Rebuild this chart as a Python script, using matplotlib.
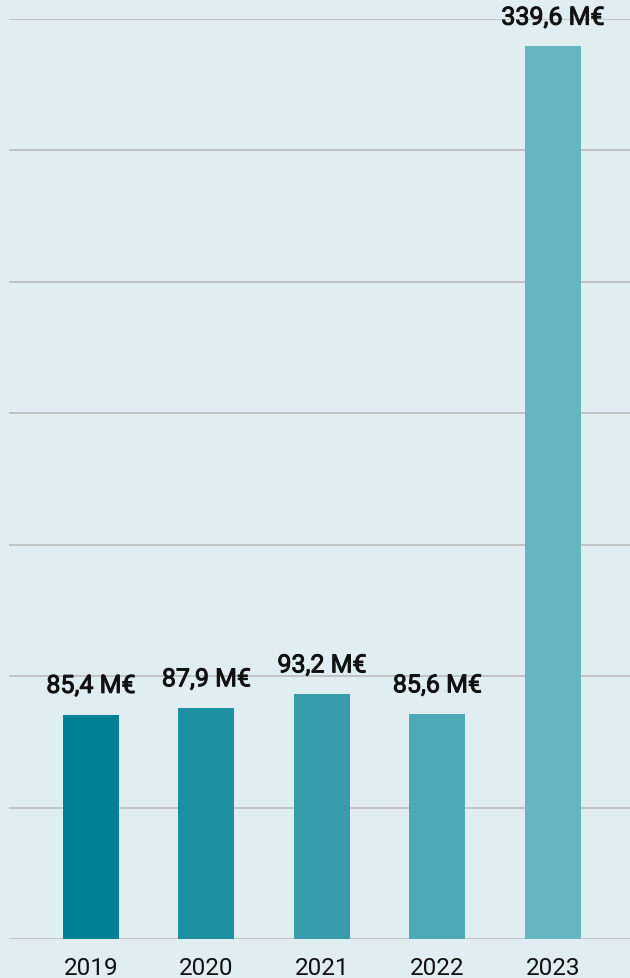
import matplotlib.pyplot as plt
import matplotlib.patheffects as pe
import numpy as np

years = ['2019', '2020', '2021', '2022', '2023']
values = [85.4, 87.9, 93.2, 85.6, 339.6]
labels = ['85,4 M€', '87,9 M€', '93,2 M€', '85,6 M€', '339,6 M€']
colors = ['#018294', '#1d91a1', '#369dab', '#4ea9b7', '#67b5c1']

bg = '#e0eef1'
plt.rcParams['font.family'] = ['Roboto', 'DejaVu Sans']

fig = plt.figure(figsize=(6.3, 9.79), dpi=100)
fig.patch.set_facecolor(bg)
ax = fig.add_axes([9 / 630, 39 / 979, 621 / 630, 920 / 979])
ax.set_facecolor(bg)

x = np.arange(len(years))
ax.bar(x, values, width=0.485, color=colors, zorder=2)

# Roboto Medium isn't around, so thicken the regular face a little
medium = [pe.withStroke(linewidth=0.7, foreground='#111111')]
for xi, v, lab in zip(x, values, labels):
    ax.annotate(lab, (xi, v), xytext=(0, 12), textcoords='offset points',
                ha='center', va='bottom', fontsize=18, color='#111111',
                path_effects=medium, zorder=3)

ax.set_xlim(-0.71, 4.667)
ax.set_ylim(0, 350)
ax.set_yticks(np.arange(0, 351, 50))
ax.set_yticklabels([])
ax.yaxis.grid(True, color='#bcbcbc', linewidth=1.2, zorder=0)
ax.set_axisbelow(True)
ax.set_xticks(x)
ax.set_xticklabels(years, fontsize=17.5, color='#111111')
ax.tick_params(axis='both', length=0)
ax.tick_params(axis='x', pad=12)
for s in ax.spines.values():
    s.set_visible(False)

fig.savefig('out.png', dpi=100, facecolor=bg)
